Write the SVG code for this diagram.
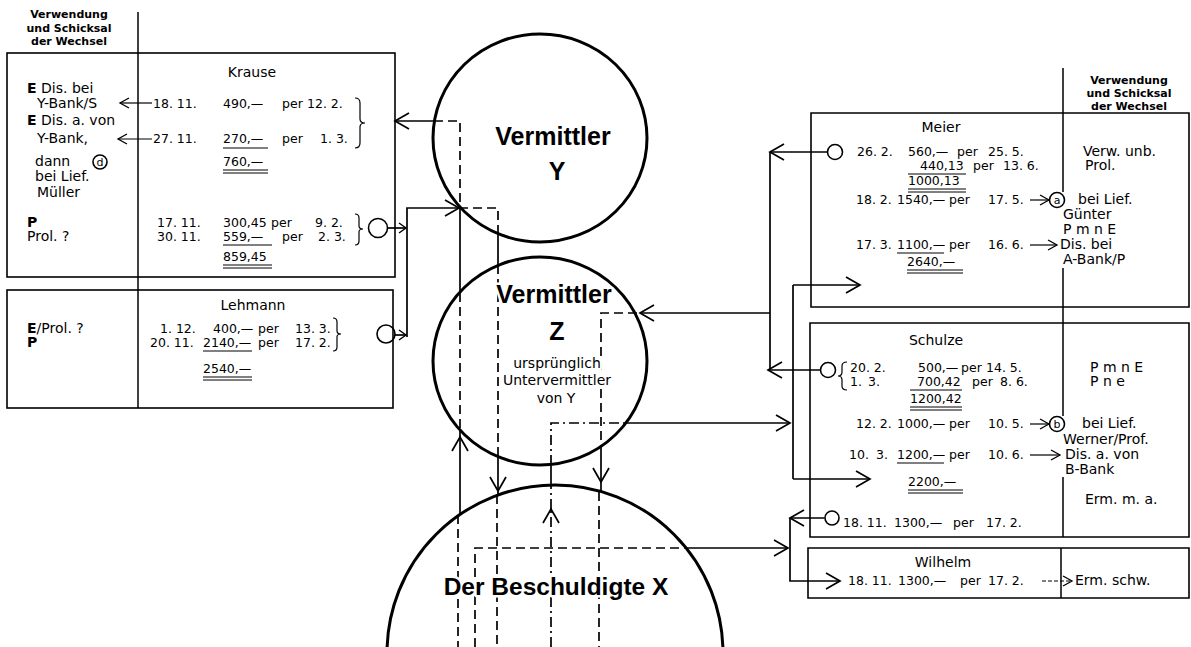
<svg xmlns="http://www.w3.org/2000/svg" width="1191" height="647" viewBox="0 0 1191 647">
<defs>
<style>
text{font-family:"DejaVu Sans","Liberation Sans",sans-serif;font-size:12.5px;fill:#000}
.w{font-size:14px}
.hd{font-weight:bold;font-size:11px;text-anchor:middle}
.big{font-family:"Liberation Sans",Arial,sans-serif;font-weight:bold;font-size:25px;text-anchor:middle}
.bigx{font-family:"Liberation Sans",Arial,sans-serif;font-weight:bold;font-size:24.5px;text-anchor:middle}
.mid{text-anchor:middle}
.b{font-weight:bold}
.halo{paint-order:stroke;stroke:#fff;stroke-width:5px;stroke-linejoin:round}
.sm{font-size:14px;text-anchor:middle}
.box{fill:none;stroke:#000;stroke-width:1.6}
.div{fill:none;stroke:#000;stroke-width:1.5}
.circ{fill:none;stroke:#000;stroke-width:3}
.ln{fill:none;stroke:#000;stroke-width:1.7}
.da{stroke-dasharray:9 5}
.dd{stroke-dasharray:10 4 2 4}
.ul{fill:none;stroke:#000;stroke-width:1}
.ring{fill:none;stroke:#000;stroke-width:1.6}
.lt{font-size:11px;text-anchor:middle}
.ta{fill:none;stroke:#000;stroke-width:1.2}
.tad{fill:none;stroke:#000;stroke-width:1.2;stroke-dasharray:4 2}
.br{fill:none;stroke:#000;stroke-width:1.2}
</style>
<marker id="ab" viewBox="-16 -10 20 20" refX="0" refY="0" markerWidth="20" markerHeight="20" markerUnits="userSpaceOnUse" orient="auto"><path d="M-14,-8 L0,0 L-14,8" fill="none" stroke="#000" stroke-width="1.7"/></marker>
<marker id="am" viewBox="-16 -10 20 20" refX="0" refY="0" markerWidth="20" markerHeight="20" markerUnits="userSpaceOnUse" orient="auto"><path d="M-9,-5 L0,0 L-9,5" fill="none" stroke="#000" stroke-width="1.3"/></marker>
<marker id="as" viewBox="-16 -10 20 20" refX="0" refY="0" markerWidth="20" markerHeight="20" markerUnits="userSpaceOnUse" orient="auto"><path d="M-7,-5 L0,0 L-7,5" fill="none" stroke="#000" stroke-width="1.4"/></marker>
</defs>
<rect width="1191" height="647" fill="#fff"/>

<g id="header-left">
<text class="hd" x="69" y="18">Verwendung</text>
<text class="hd" x="69" y="32">und Schicksal</text>
<text class="hd" x="69" y="45">der Wechsel</text>
<path class="div" d="M138,12 V408"/>
</g>

<g id="krause">
<rect class="box" x="7" y="53" width="388" height="224"/>
<text class="w mid" x="252" y="77">Krause</text>
<text class="w" x="27" y="93"><tspan class="b">E</tspan> Dis. bei</text>
<text class="w" x="37" y="108">Y-Bank/S</text>
<text class="w" x="27" y="125"><tspan class="b">E</tspan> Dis. a. von</text>
<text class="w" x="37" y="143">Y-Bank,</text>
<text class="w" x="35" y="166">dann</text>
<circle class="ring" cx="100" cy="162" r="7"/>
<text class="lt" x="100" y="166">d</text>
<text class="w" x="35" y="181">bei Lief.</text>
<text class="w" x="37" y="197">Müller</text>
<text class="w b" x="27" y="227">P</text>
<text class="w" x="27" y="241">Prol. ?</text>
<text x="153" y="108">18. 11.</text>
<text x="223" y="108">490,—</text>
<text x="282" y="108">per</text>
<text x="307" y="108">12. 2.</text>
<text x="153" y="143">27. 11.</text>
<text x="223" y="143">270,—</text>
<text x="282" y="143">per</text>
<text x="320" y="143">1. 3.</text>
<path class="ul" d="M223,148 H268"/>
<text x="223" y="166">760,—</text>
<path class="ul" d="M223,170 H268 M223,173 H268"/>
<path class="br" d="M355,98 Q360,98 360,103 L360,119 Q360,123 365,123 Q360,123 360,127 L360,143 Q360,148 355,148"/>
<text x="157" y="227">17. 11.</text>
<text x="223" y="227">300,45</text>
<text x="271" y="227">per</text>
<text x="315" y="227">9. 2.</text>
<text x="157" y="241">30. 11.</text>
<text x="223" y="241">559,—</text>
<text x="282" y="241">per</text>
<text x="318" y="241">2. 3.</text>
<path class="ul" d="M223,245 H272"/>
<text x="223" y="261">859,45</text>
<path class="ul" d="M223,265 H272 M223,268 H272"/>
<path class="br" d="M355,214 Q359,214 359,218 L359,226 Q359,229 363,229 Q359,229 359,232 L359,241 Q359,245 355,245"/>
<circle class="ring" cx="378" cy="228" r="9.5"/>
</g>

<g id="lehmann">
<rect class="box" x="7" y="290" width="386" height="118"/>
<text class="w mid" x="253" y="310">Lehmann</text>
<text class="w" x="27" y="333"><tspan class="b">E</tspan>/Prol. ?</text>
<text class="w b" x="27" y="347">P</text>
<text x="160" y="333">1. 12.</text>
<text x="213" y="333">400,—</text>
<text x="258" y="333">per</text>
<text x="295" y="333">13. 3.</text>
<text x="150" y="347">20. 11.</text>
<text x="203" y="347">2140,—</text>
<text x="258" y="347">per</text>
<text x="295" y="347">17. 2.</text>
<path class="ul" d="M203,351 H252"/>
<text x="203" y="373">2540,—</text>
<path class="ul" d="M203,377 H252 M203,380 H252"/>
<path class="br" d="M333,318 Q337,318 337,322 L337,331 Q337,334 341,334 Q337,334 337,337 L337,347 Q337,351 333,351"/>
<circle class="ring" cx="386" cy="334" r="9"/>
</g>

<g id="vermittler-y">
<ellipse class="circ" cx="540" cy="138" rx="107" ry="104"/>
<text class="big" x="553" y="145">Vermittler</text>
<text class="big" x="557" y="180">Y</text>
</g>

<g id="vermittler-z">
<ellipse class="circ" cx="540" cy="361" rx="107" ry="104"/>
</g>

<g id="beschuldigter-x">
<circle class="circ" cx="555" cy="653" r="168"/>
</g>

<g id="header-right">
<text class="hd" x="1129" y="84">Verwendung</text>
<text class="hd" x="1129" y="97">und Schicksal</text>
<text class="hd" x="1129" y="110">der Wechsel</text>
<path class="div" d="M1063,68 V192 M1063,268 V416 M1063,477 V537 M1061,548 V598"/>
</g>

<g id="meier">
<path class="box" d="M811,113 H1189 V307 H811 Z"/>
<text class="w mid" x="941" y="132">Meier</text>
<circle class="ring" cx="835" cy="152" r="7.5"/>
<text x="857" y="156">26. 2.</text>
<text x="908" y="156">560,—</text>
<text x="957" y="156">per</text>
<text x="988" y="156">25. 5.</text>
<text class="w" x="1083" y="156">Verw. unb.</text>
<text x="920" y="170">440,13</text>
<text x="973" y="170">per</text>
<text x="1003" y="170">13. 6.</text>
<text class="w" x="1085" y="170">Prol.</text>
<path class="ul" d="M908,174 H966"/>
<text x="908" y="185">1000,13</text>
<path class="ul" d="M908,189 H966 M908,192 H966"/>
<text x="856" y="204">18. 2.</text>
<text x="897" y="204">1540,—</text>
<text x="949" y="204">per</text>
<text x="988" y="204">17. 5.</text>
<circle class="ring" cx="1057" cy="200" r="7.5"/>
<text class="lt" x="1057" y="204">a</text>
<text class="w" x="1078" y="204">bei Lief.</text>
<text class="w" x="1063" y="219">Günter</text>
<text class="w" x="1063" y="234">P m n E</text>
<text x="856" y="249">17. 3.</text>
<text x="897" y="249">1100,—</text>
<text x="949" y="249">per</text>
<text x="988" y="249">16. 6.</text>
<path class="ul" d="M897,253 H944"/>
<text class="w" x="1060" y="249">Dis. bei</text>
<text class="w" x="1063" y="264">A-Bank/P</text>
<text x="907" y="266">2640,—</text>
<path class="ul" d="M907,270 H963 M907,273 H963"/>
</g>

<g id="schulze">
<path class="box" d="M810,323 H1189 V537 H810 Z"/>
<text class="w mid" x="936" y="345">Schulze</text>
<circle class="ring" cx="828" cy="370" r="7.5"/>
<path class="br" d="M847,362 Q842,362 842,366 L842,372 Q842,376 838,376 Q842,376 842,380 L842,386 Q842,390 847,390"/>
<text x="850" y="372">20. 2.</text>
<text x="918" y="372">500,—</text>
<text x="961" y="372">per</text>
<text x="986" y="372">14. 5.</text>
<text class="w" x="1090" y="372">P m n E</text>
<text x="850" y="386">1.</text>
<text x="868" y="386">3.</text>
<text x="917" y="386">700,42</text>
<text x="972" y="386">per</text>
<text x="1000" y="386">8. 6.</text>
<text class="w" x="1090" y="386">P n e</text>
<path class="ul" d="M910,390 H962"/>
<text x="910" y="403">1200,42</text>
<path class="ul" d="M910,407 H962 M910,410 H962"/>
<text x="856" y="428">12. 2.</text>
<text x="897" y="428">1000,—</text>
<text x="949" y="428">per</text>
<text x="988" y="428">10. 5.</text>
<circle class="ring" cx="1057" cy="424" r="7.5"/>
<text class="lt" x="1057" y="428">b</text>
<text class="w" x="1082" y="428">bei Lief.</text>
<text class="w" x="1063" y="444">Werner/Prof.</text>
<text x="849" y="459">10.</text>
<text x="876" y="459">3.</text>
<text x="897" y="459">1200,—</text>
<text x="949" y="459">per</text>
<text x="988" y="459">10. 6.</text>
<path class="ul" d="M897,463 H944"/>
<text class="w" x="1065" y="459">Dis. a. von</text>
<text class="w" x="1065" y="474">B-Bank</text>
<text x="908" y="486">2200,—</text>
<path class="ul" d="M908,490 H963 M908,493 H963"/>
<text class="w" x="1085" y="504">Erm. m. a.</text>
<circle class="ring" cx="832" cy="518" r="7"/>
<text x="843" y="527">18. 11.</text>
<text x="894" y="527">1300,—</text>
<text x="953" y="527">per</text>
<text x="986" y="527">17. 2.</text>
</g>

<g id="wilhelm">
<path class="box" d="M808,548 H1189 V598 H808 Z"/>
<text class="w mid" x="943" y="567">Wilhelm</text>
<text x="848" y="585">18. 11.</text>
<text x="898" y="585">1300,—</text>
<text x="960" y="585">per</text>
<text x="988" y="585">17. 2.</text>
<text class="w" x="1075" y="585">Erm. schw.</text>
</g>

<g id="connectors">
<path class="ta" d="M152,103 H120" marker-end="url(#am)"/>
<path class="ta" d="M152,139 H118" marker-end="url(#am)"/>
<path class="ta" d="M1030,200 H1049" marker-end="url(#am)"/>
<path class="ta" d="M1030,245 H1057" marker-end="url(#am)"/>
<path class="ta" d="M1030,424 H1049" marker-end="url(#am)"/>
<path class="ta" d="M1030,455 H1060" marker-end="url(#am)"/>
<path class="tad" d="M1042,581 H1072" marker-end="url(#am)"/>

<path class="ln da" d="M498,234 V208 H460 V121 H434"/>
<path class="ln" d="M434,121 H395" marker-end="url(#ab)"/>
<path class="ln" d="M498,234 V265"/>
<path class="ln da" d="M498,265 V457"/>
<path class="ln" d="M498,457 V491" marker-end="url(#ab)"/>
<path class="ln" d="M498,491 V495"/>
<path class="ln da" d="M497,495 V647"/>

<path class="ln" d="M387.5,228 H406" marker-end="url(#as)"/>
<path class="ln" d="M395,335 H406" marker-end="url(#as)"/>
<path class="ln" d="M407,337 V208 H459" marker-end="url(#ab)"/>
<path class="ln" d="M460,208 V293"/>
<path class="ln da" d="M460,293 V430"/>
<path class="ln" d="M460,430 V437"/>
<path class="ln" d="M460,515 V437" marker-end="url(#ab)"/>
<path class="ln da" d="M458,515 V647"/>

<path class="ln da" d="M475,647 V548 H686"/>
<path class="ln" d="M686,548 H788" marker-end="url(#ab)"/>

<path class="ln dd" d="M551,647 V509" marker-end="url(#ab)"/>
<path class="ln dd" d="M551,509 V485"/>
<path class="ln" d="M551,485 V465"/>
<path class="ln dd" d="M551,465 V423 H626"/>
<path class="ln" d="M626,423 H790" marker-end="url(#ab)"/>
<path class="ln" d="M793,285 V479"/>
<path class="ln" d="M793,285 H860" marker-end="url(#ab)"/>
<path class="ln" d="M793,479 H870" marker-end="url(#ab)"/>

<path class="ln" d="M827,152 H770" marker-end="url(#ab)"/>
<path class="ln" d="M770,152 V370"/>
<path class="ln" d="M820,370 H768" marker-end="url(#ab)"/>
<path class="ln" d="M770,313 H640" marker-end="url(#ab)"/>
<path class="ln da" d="M637,313 H601 V447"/>
<path class="ln" d="M601,447 V482" marker-end="url(#ab)"/>
<path class="ln" d="M601,482 V492"/>
<path class="ln da" d="M599,492 V647"/>

<path class="ln" d="M824.5,518 H790" marker-end="url(#ab)"/>
<path class="ln" d="M790,518 V581 H840" marker-end="url(#ab)"/>
</g>

<g id="labels">
<text class="big halo" x="554" y="303">Vermittler</text>
<text class="big halo" x="557" y="340">Z</text>
<text class="sm halo" x="557" y="368">ursprünglich</text>
<text class="sm halo" x="557" y="385">Untervermittler</text>
<text class="sm halo" x="556" y="403">von Y</text>
<text class="bigx halo" x="556" y="595">Der Beschuldigte X</text>
</g>
</svg>
